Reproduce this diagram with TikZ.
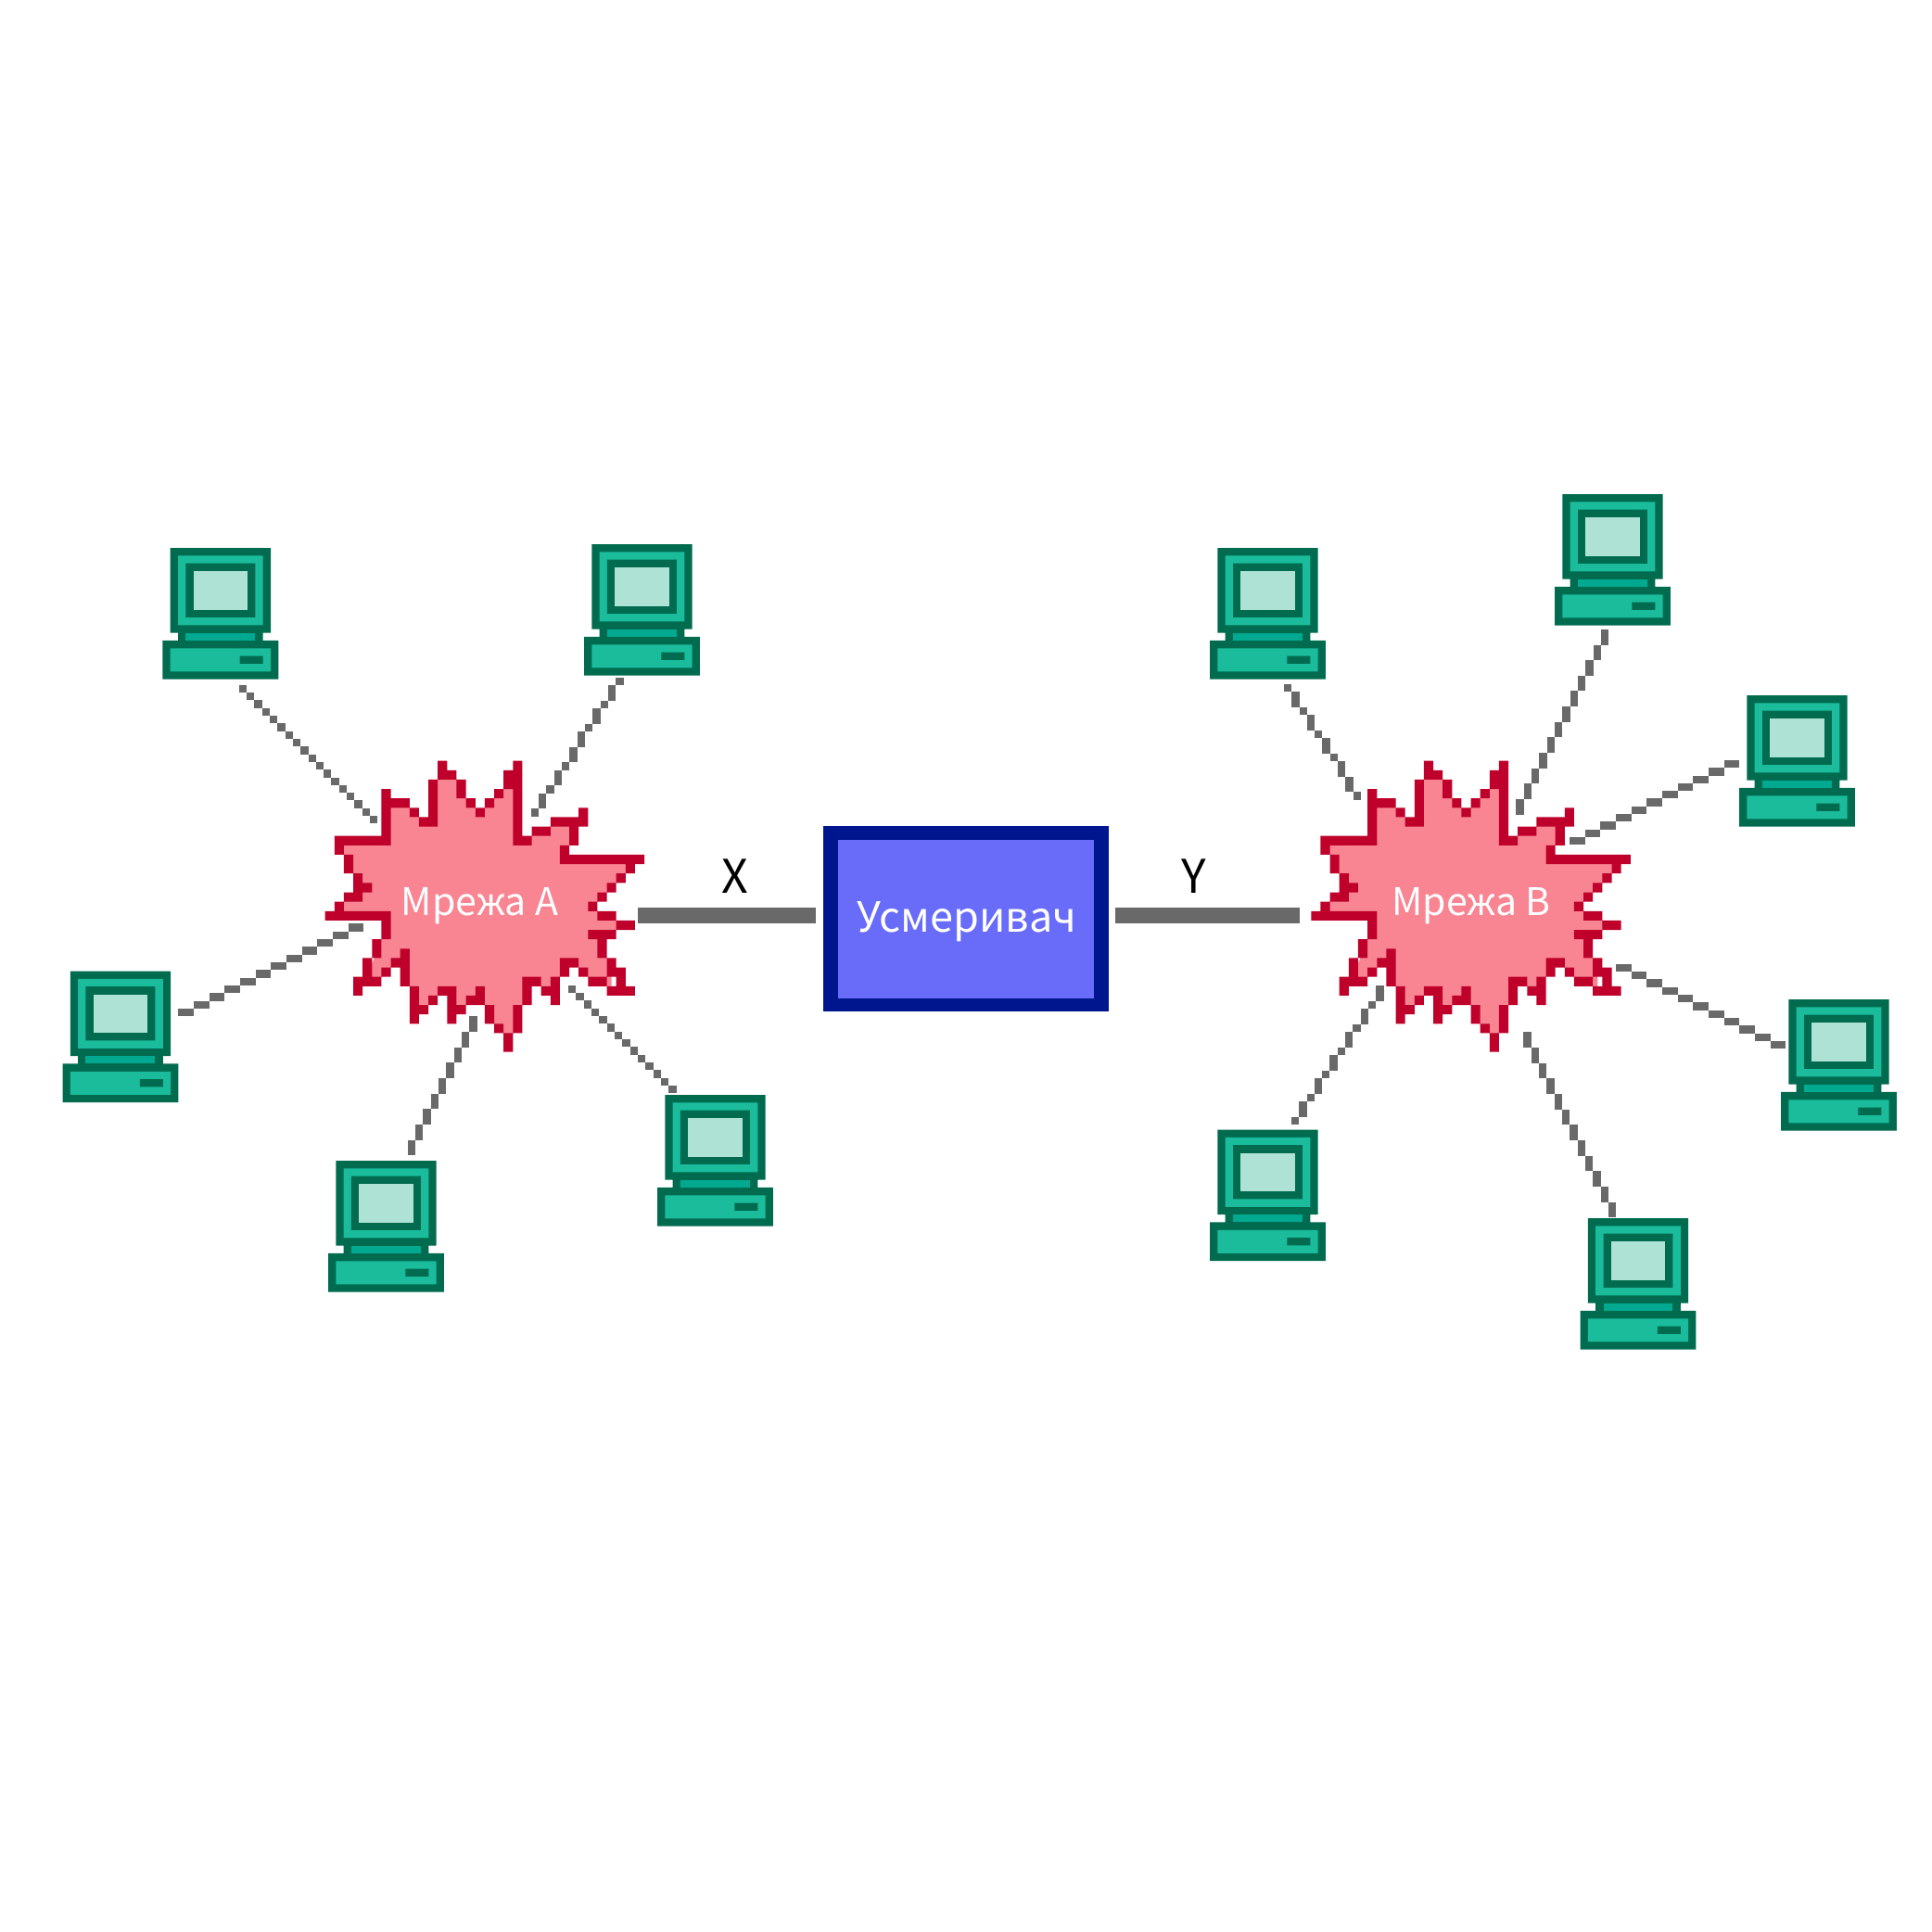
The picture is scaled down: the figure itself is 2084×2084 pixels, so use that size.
\documentclass[tikz,border=0pt]{standalone}
\usepackage{fontspec}
\setmainfont{Noto Sans CJK SC}
\definecolor{cdark}{HTML}{006B4F}
\definecolor{cteal}{HTML}{1ABC9C}
\definecolor{cneck}{HTML}{00A98F}
\definecolor{cscreen}{HTML}{AEE2D4}
\definecolor{bred}{HTML}{BE002A}
\definecolor{bpink}{HTML}{F98593}
\definecolor{boxdark}{HTML}{00168F}
\definecolor{boxblue}{HTML}{686CF9}
\definecolor{linkgray}{HTML}{696969}
\tikzset{
  pc frame/.style={fill=cdark},
  pc body/.style={fill=cteal},
  pc neck/.style={fill=cneck},
  pc screen/.style={fill=cscreen},
  pc node/.style={inner sep=0pt,outer sep=0pt,minimum width=62.475pt,minimum height=70.805pt,anchor=north west},
  netlabel/.style={anchor=base,inner sep=0pt,text=white,font=\fontsize{20.5}{25}\selectfont},
  boxlabel/.style={anchor=base,inner sep=0pt,text=white,font=\fontsize{22.5}{27}\selectfont},
  linklabel/.style={anchor=base,inner sep=0pt,text=black,font=\fontsize{25}{30}\selectfont},
  thicklink/.style={draw=linkgray,line width=8.33pt},
  meter outer/.style={fill=boxdark,inner sep=0pt,outer sep=0pt,minimum width=154.25pt,minimum height=100pt},
  meter inner/.style={fill=boxblue,inner sep=0pt,outer sep=0pt,minimum width=138pt,minimum height=85.5pt},
}
\newcommand\compu[3]{%
  \node[pc node] (#1) at (#2,#3) {};
  \begin{scope}[shift={(#2,#3)},x=4.165pt,y=-4.165pt]
    \fill[pc frame] (1,0) rectangle (14,11) (2,11) rectangle (13,12) (0,12) rectangle (15,17);
    \fill[pc body] (2,1) rectangle (13,10) (1,13) rectangle (14,16);
    \fill[pc frame] (3,2) rectangle (12,9) (10,14) rectangle (13,15);
    \fill[pc screen] (4,3) rectangle (11,8);
    \fill[pc neck] (3,11) rectangle (12,12);
  \end{scope}}
\newcommand\burstshape[2]{%
  \begin{scope}[shift={(#1,#2)},x=5.065pt,y=-5.065pt]
    \fill[bpink,shift={(.5,.5)}] (12,1)--(13,1)--(14,2)--(14,3)--(15,4)--(16,5)--(17,4)--(18,3)--(19,2)--(20,2)--(20,8)--(21,8)--(22,7)--(23,7)--(24,6)--(26,6)--(26,8)--(25,9)--(25,10)--(32,10)--(32,11)--(31,12)--(30,13)--(29,14)--(28,15)--(29,16)--(30,16)--(31,17)--(30,18)--(29,18)--(29,20)--(30,21)--(30,24)--(29,23)--(28,23)--(27,22)--(26,21)--(25,21)--(25,22)--(24,23)--(23,24)--(22,23)--(21,23)--(21,25)--(20,26)--(20,28)--(19,29)--(18,28)--(17,27)--(17,26)--(16,25)--(15,25)--(14,26)--(13,25)--(13,24)--(12,24)--(11,25)--(10,26)--(9,26)--(9,24)--(8,23)--(8,20)--(7,21)--(6,22)--(5,23)--(4,22)--(5,20)--(5,19)--(6,18)--(6,16)--(1,16)--(1,15)--(2,14)--(3,14)--(4,13)--(3,12)--(2,11)--(2,10)--(1,9)--(1,8)--(6,8)--(6,3)--(7,4)--(8,4)--(9,5)--(10,6)--(11,6)--(11,2)--cycle;
    \fill[bred] \foreach \j/\cols in {
      0/{12,20},
      1/{12,13,19,20},
      2/{11,14,19,20},
      3/{6,11,14,18,20},
      4/{6,7,8,11,15,17,20},
      5/{6,9,11,16,20,27},
      6/{6,10,11,20,24,25,26,27},
      7/{6,20,22,23,26},
      8/{1,2,3,4,5,6,20,21,26},
      9/{1,25},
      10/{2,25,26,27,28,29,30,31,32,33},
      11/{2,32},
      12/{3,31},
      13/{3,4,30},
      14/{2,3,29},
      15/{1,28},
      16/{0,1,2,3,4,5,6,29,30},
      17/{6,31,32},
      18/{6,28,29,30},
      19/{5,29},
      20/{5,8,29},
      21/{4,7,8,25,26,30},
      22/{4,6,8,25,27,30,31},
      23/{3,4,5,8,21,22,24,28,29,31},
      24/{3,9,12,13,16,21,23,24,30,31,32},
      25/{9,11,13,15,16,21,24},
      26/{9,10,13,14,17,20},
      27/{9,13,17,20},
      28/{18,20},
      29/{19},
      30/{19}} {
        \foreach \i in \cols { (\i,\j) rectangle ++(1,1) }
      };
  \end{scope}}
% stepped pixel link between two named coordinates
\newlength\lax\newlength\lay\newlength\lbx\newlength\lby
\newcommand\pixlink[2]{%
  \pgfextractx\lax{\pgfpointanchor{#1}{center}}%
  \pgfextracty\lay{\pgfpointanchor{#1}{center}}%
  \pgfextractx\lbx{\pgfpointanchor{#2}{center}}%
  \pgfextracty\lby{\pgfpointanchor{#2}{center}}%
  \pgfmathsetmacro\ldx{(\lbx-\lax)/1pt}%
  \pgfmathsetmacro\ldy{(\lby-\lay)/1pt}%
  \pgfmathtruncatemacro\lN{round(max(abs(\ldx),abs(\ldy))/4.165)}%
  \foreach \k in {0,...,\lN} {
      \pgfmathsetmacro\cx{\lax/1pt+4.165*round(\k*\ldx/\lN/4.165)}%
      \pgfmathsetmacro\cy{\lay/1pt+4.165*round(\k*\ldy/\lN/4.165)}%
      \fill[linkgray] (\cx pt-2.0825pt,\cy pt-2.0825pt) rectangle ++(4.165pt,4.165pt);
  }}
\begin{document}
\begin{tikzpicture}[x=0.5pt,y=-0.5pt]
\useasboundingbox (0,0) rectangle (2084,2084);
\fill[white] (0,0) rectangle (2084,2084);

% networks
\burstshape{350.67}{820.67}
\burstshape{1414.33}{820.67}
\node[netlabel] (netA) at (517.5,987.5) {Мрежа А};
\node[netlabel] (netB) at (1587,987.5) {Мрежа В};

% meter
\node[meter outer] (meter) at (1041.8,991) {};
\node[meter inner] (meterin) at (1042,991) {};
\node[boxlabel] (meterlabel) at (1043,1005) {Усмеривач};

% computers
\compu{a1}{175.4}{591}
\compu{a2}{630}{587}
\compu{a3}{67.5}{1047.5}
\compu{a4}{354}{1252}
\compu{a5}{709}{1181}
\compu{b1}{1305}{591}
\compu{b2}{1677}{533}
\compu{b3}{1876}{750}
\compu{b4}{1921}{1078}
\compu{b5}{1704.5}{1314}
\compu{b6}{1305}{1218.5}

% link end points
\coordinate (a1s) at (261.7,742.7);  \coordinate (a1e) at (402.7,884);
\coordinate (a2s) at (668.5,735);    \coordinate (a2e) at (576.7,876);
\coordinate (a3s) at (196.5,1092);   \coordinate (a3e) at (385,1000);
\coordinate (a4s) at (444,1242);     \coordinate (a4e) at (510.7,1098);
\coordinate (a5s) at (725.5,1175);   \coordinate (a5e) at (615.5,1067);
\coordinate (b1s) at (1389,742);     \coordinate (b1e) at (1465,859);
\coordinate (b2s) at (1731,683);     \coordinate (b2e) at (1639,876);
\coordinate (b3s) at (1872,824);     \coordinate (b3e) at (1694,908);
\coordinate (b4s) at (1922,1127);    \coordinate (b4e) at (1743,1040);
\coordinate (b5s) at (1739,1309);    \coordinate (b5e) at (1647,1115);
\coordinate (b6s) at (1397,1209);    \coordinate (b6e) at (1490,1065);
\foreach \n in {a1,a2,a3,a4,a5,b1,b2,b3,b4,b5,b6} {\pixlink{\n s}{\n e}}

% thick links
\coordinate (xs) at (688,987.6); \coordinate (xe) at (880,987.6);
\coordinate (ys) at (1203,987.6); \coordinate (ye) at (1402,987.6);
\draw[thicklink] (xs) -- (xe);
\draw[thicklink] (ys) -- (ye);
\node[linklabel] (xlabel) at (793,963) {X};
\node[linklabel] (ylabel) at (1288,963) {Y};
\end{tikzpicture}
\end{document}
